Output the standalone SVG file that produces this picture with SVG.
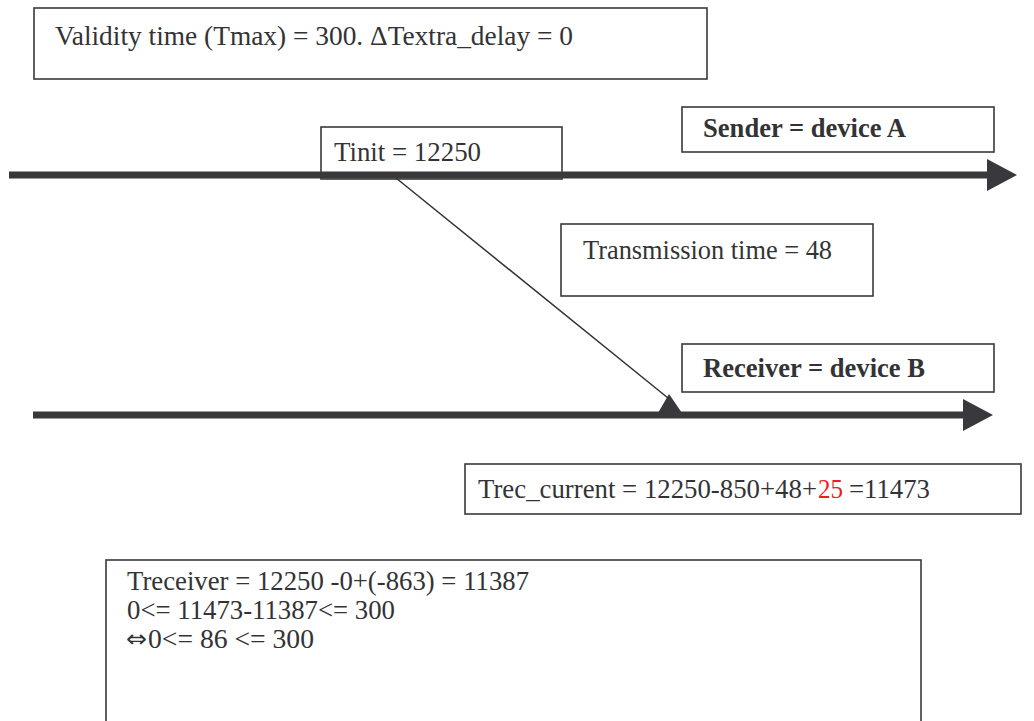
<svg xmlns="http://www.w3.org/2000/svg" width="1034" height="721" viewBox="0 0 1034 721">
<style>
.box{fill:#fff;stroke:#3a3a3e;stroke-width:1.6}
.t{font-family:"Liberation Serif","Times New Roman",serif;font-size:27px;fill:#333336}
.b{font-weight:bold}
.sym{font-family:"DejaVu Sans",sans-serif;font-size:24px;fill:#333336}
.axis{stroke:#38383d;stroke-width:7;fill:none}
.head{fill:#38383d}
.red{fill:#ee1c25}
</style>
<rect width="1034" height="721" fill="#fff"/>
<g id="validity">
<rect class="box" x="34" y="8" width="673" height="71"/>
<text class="t" x="55" y="45" textLength="518" lengthAdjust="spacingAndGlyphs">Validity time (Tmax) = 300. ΔTextra_delay = 0</text>
</g>
<g id="tinit">
<rect class="box" x="321" y="127" width="241" height="52"/>
<text class="t" x="334" y="161" textLength="147" lengthAdjust="spacingAndGlyphs">Tinit = 12250</text>
</g>
<g id="sender">
<rect class="box" x="682" y="107" width="312" height="45"/>
<text class="t b" x="703" y="137" textLength="203" lengthAdjust="spacingAndGlyphs">Sender = device A</text>
</g>
<g id="transmission">
<rect class="box" x="561" y="224" width="312" height="72"/>
<text class="t" x="583" y="259" textLength="249" lengthAdjust="spacingAndGlyphs">Transmission time = 48</text>
</g>
<g id="receiver">
<rect class="box" x="682" y="344" width="312" height="48"/>
<text class="t b" x="703" y="377" textLength="222" lengthAdjust="spacingAndGlyphs">Receiver = device B</text>
</g>
<g id="connectors">
<line x1="396" y1="178" x2="668" y2="398" stroke="#333336" stroke-width="1.5"/>
<polygon class="head" points="669,394 658,413 682,413"/>
<line class="axis" x1="9" y1="175" x2="988" y2="175"/>
<polygon class="head" points="987,159 1017,175 987,191"/>
<line class="axis" x1="33" y1="415" x2="964" y2="415"/>
<polygon class="head" points="963,399 993,415 963,431"/>
</g>
<g id="trec">
<rect class="box" x="465" y="464" width="556" height="50"/>
<text class="t" x="478" y="498" textLength="339" lengthAdjust="spacingAndGlyphs">Trec_current = 12250-850+48+</text>
<text class="t red" x="818" y="498" textLength="25" lengthAdjust="spacingAndGlyphs">25</text>
<text class="t" x="849" y="498" textLength="81" lengthAdjust="spacingAndGlyphs">=11473</text>
</g>
<g id="result">
<rect class="box" x="106" y="560" width="815" height="180"/>
<text class="t" x="127" y="590" textLength="402" lengthAdjust="spacingAndGlyphs">Treceiver = 12250 -0+(-863) = 11387</text>
<text class="t" x="127" y="619" textLength="268" lengthAdjust="spacingAndGlyphs">0&lt;= 11473-11387&lt;= 300</text>
<text class="sym" x="126" y="647" textLength="21" lengthAdjust="spacingAndGlyphs">⇔</text>
<text class="t" x="148" y="648" textLength="166" lengthAdjust="spacingAndGlyphs">0&lt;= 86 &lt;= 300</text>
</g>
</svg>
